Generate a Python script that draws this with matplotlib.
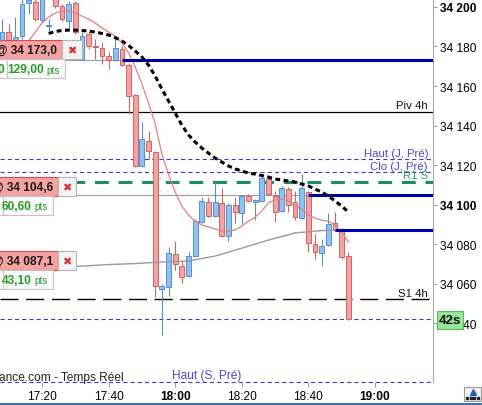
import matplotlib
matplotlib.use("Agg")
import matplotlib.pyplot as plt
from matplotlib.patches import Rectangle

plt.rcParams['font.family'] = ['Liberation Sans', 'DejaVu Sans']
plt.rcParams['lines.scale_dashes'] = False

#########################################################
# 2 min candles
times = ["17:08", "17:10", "17:12", "17:14", "17:16", "17:18", "17:20", "17:22", "17:24", "17:26",
         "17:28", "17:30", "17:32", "17:34", "17:36", "17:38", "17:40", "17:42", "17:44", "17:46",
         "17:48", "17:50", "17:52", "17:54", "17:56", "17:58", "18:00", "18:02", "18:04", "18:06",
         "18:08", "18:10", "18:12", "18:14", "18:16", "18:18", "18:20", "18:22", "18:24", "18:26",
         "18:28", "18:30", "18:32", "18:34", "18:36", "18:38", "18:40", "18:42", "18:44", "18:46",
         "18:48", "18:50", "18:52"]
opens = [34181.3, 34187.3, 34182.8, 34185.3, 34201.8, 34202.5, 34193.4, 34190.4, 34206.0, 34200.5,
         34192.9, 34202.0, 34173.7, 34186.3, 34179.7, 34179.2, 34175.2, 34173.2, 34178.7, 34170.6,
         34155.4, 34119.5, 34132.2, 34126.6, 34057.2, 34058.2, 34074.9, 34068.9, 34063.8, 34073.9,
         34091.1, 34101.3, 34094.1, 34100.8, 34084.0, 34099.7, 34095.7, 34104.3, 34101.3, 34101.8,
         34112.9, 34104.3, 34096.7, 34107.8, 34101.3, 34093.1, 34106.3, 34080.0, 34075.4, 34079.5,
         34090.6, 34087.6, 34073.9]
highs = [34193.9, 34191.4, 34195.0, 34206.0, 34207.0, 34205.0, 34208.0, 34193.9, 34208.0, 34201.5,
         34203.0, 34203.0, 34187.3, 34187.8, 34183.8, 34182.3, 34177.2, 34183.8, 34180.2, 34171.6,
         34155.9, 34141.8, 34137.2, 34127.1, 34059.5, 34078.5, 34081.5, 34071.4, 34075.9, 34092.6,
         34103.8, 34103.8, 34111.4, 34108.4, 34100.8, 34103.8, 34104.8, 34105.3, 34102.8, 34115.4,
         34113.9, 34106.8, 34109.4, 34108.9, 34106.8, 34115.4, 34106.8, 34085.1, 34082.5, 34095.7,
         34096.2, 34088.1, 34075.9]
lows = [34178.7, 34179.7, 34181.8, 34183.8, 34196.5, 34192.9, 34192.4, 34187.8, 34199.5, 34192.9,
        34188.9, 34186.3, 34173.2, 34178.7, 34173.7, 34171.1, 34168.6, 34172.6, 34170.1, 34145.8,
        34119.0, 34119.0, 34123.0, 34053.1, 34033.9, 34053.6, 34066.8, 34060.2, 34063.3, 34073.4,
        34090.6, 34093.6, 34093.6, 34083.5, 34081.5, 34090.6, 34090.1, 34101.3, 34092.0, 34101.3,
        34104.8, 34091.1, 34096.2, 34096.2, 34092.1, 34092.6, 34075.9, 34072.4, 34068.9, 34079.0,
        34086.6, 34072.4, 34041.5]
closes = [34187.3, 34181.8, 34184.8, 34201.5, 34203.5, 34193.9, 34206.0, 34190.6, 34200.5, 34193.9,
          34201.5, 34187.3, 34185.3, 34180.3, 34179.5, 34175.2, 34173.2, 34179.2, 34170.6, 34154.9,
          34119.5, 34133.2, 34127.1, 34058.7, 34058.7, 34075.4, 34069.9, 34063.3, 34073.9, 34091.6,
          34101.8, 34094.1, 34101.3, 34084.0, 34099.7, 34096.2, 34104.3, 34101.8, 34102.3, 34113.4,
          34105.3, 34096.2, 34108.4, 34099.7, 34093.6, 34108.4, 34080.5, 34075.9, 34079.0, 34090.1,
          34087.1, 34073.4, 34042.0]

# moving averages (fast one from 17:14, dashed one from 17:22)
ma_fast = [34179.7, 34182.8, 34187.3, 34191.9, 34194.9, 34197.0, 34198.0, 34198.0, 34197.0, 34195.4,
           34193.9, 34191.9, 34189.4, 34187.3, 34185.3, 34181.8, 34176.7, 34169.6, 34161.0, 34151.4,
           34140.8, 34125.5, 34115.4, 34106.3, 34099.2, 34094.7, 34091.6, 34089.6, 34088.6, 34087.6,
           34086.5, 34086.5, 34087.1, 34089.1, 34091.6, 34093.6, 34096.7, 34100.8, 34102.3, 34102.8,
           34101.8, 34099.7, 34097.7, 34094.7, 34093.1, 34092.1, 34091.6, 34089.6, 34086.0, 34081.0]
ma_mid = [34186.6, 34187.6, 34188.1, 34188.3, 34188.3, 34188.1, 34187.8, 34187.3, 34186.6, 34185.8,
          34184.5, 34182.8, 34180.5, 34177.7, 34174.7, 34170.6, 34165.0, 34158.5, 34152.4, 34146.3,
          34140.2, 34135.2, 34131.6, 34128.6, 34126.0, 34123.5, 34121.5, 34119.5, 34118.0, 34117.0,
          34115.9, 34115.4, 34114.7, 34113.9, 34112.9, 34112.4, 34111.9, 34111.4, 34110.4, 34109.4,
          34107.8, 34106.3, 34104.3, 34101.8, 34099.2, 34096.2]
ma_slow_times = ["17:06", "17:16", "17:24", "17:32", "17:40", "17:48", "17:56", "18:04", "18:12",
                 "18:20", "18:28", "18:36", "18:44", "18:50"]
ma_slow = [34066.0, 34067.3, 34068.1, 34068.8, 34069.6, 34070.1, 34070.9, 34071.4, 34073.9,
           34077.9, 34082.0, 34085.6, 34086.8, 34087.1]

# orders
order_prices = [34173.0, 34104.6, 34087.1]
order_times = ["17:44", "18:40", "18:48"]
order_labels = ["5 @ 34 173,0", "@ 34 104,6", "@ 34 087,1"]
order_pts = ["129,00", "60,60", "43,10"]

# levels
piv_4h = 34147.0
haut_j = 34123.0
clo_j = 34116.3
r1_s = 34111.5
s1_4h = 34052.2
bas_line = 34042.0
haut_s = 34010.1

y_ticks = [34040, 34060, 34080, 34100, 34120, 34140, 34160, 34180, 34200]
x_ticks = ["17:20", "17:40", "18:00", "18:20", "18:40", "19:00"]
timer = "42s"


#########################################################
def tmin(s):
    h, m = s.split(":")
    return (int(h) - 17) * 60 + int(m)


#########################################################
def order_tag(axo, top, label, pts, red_w, btn_w, pts_w, sep_x):
    h = 19
    axo.add_patch(Rectangle((-3, top), red_w + 3, h, fc='#f4a2a2', ec='#c85050', lw=0.8))
    axo.text(red_w - 5, top + h / 2 + 0.5, label, ha='right', va='center',
             fontsize=8.6, fontweight='bold', color='#1a1a1a')
    axo.add_patch(Rectangle((red_w, top), btn_w, h, fc='#f3f3f3', ec='#b5b5b5', lw=0.8))
    axo.text(red_w + btn_w / 2, top + h / 2 + 0.5, '\u2716', ha='center', va='center',
             fontsize=8, color='#d83030', family=['DejaVu Sans'])
    axo.add_patch(Rectangle((-3, top + h), pts_w + 3, h, fc='#fafafa', ec='#c3c3c3', lw=0.8))
    axo.plot([sep_x, sep_x], [top + h, top + 2 * h], color='#c3c3c3', lw=0.8)
    axo.text(pts_w - 21, top + 1.5 * h + 0.5, pts, ha='right', va='center',
             fontsize=8.6, fontweight='bold', color='#2a9a2a')
    axo.text(pts_w - 19, top + 1.5 * h + 1, 'pts', ha='left', va='center',
             fontsize=7.2, color='#2a9a2a')


#########################################################
fig = plt.figure(figsize=(4.82, 4.06), dpi=100)
fig.patch.set_facecolor('white')
ax = fig.add_axes([0, 23 / 406, 433 / 482, 383 / 406])
x_min, x_max = 7.387, 137.42
ax.set_xlim(x_min, x_max)
ax.set_ylim(34010.13, 34204.05)

# candles
x = [tmin(t) for t in times]
ups = [c >= o for o, c in zip(opens, closes)]
fills = ['#8dc3f0' if u else '#f4a3a3' for u in ups]
edges = ['#5a8ccc' if u else '#cc6464' for u in ups]
bottoms = [min(o, c) for o, c in zip(opens, closes)]
heights = [max(abs(c - o), 0.5) for o, c in zip(opens, closes)]
ax.vlines(x, lows, highs, colors=edges, lw=0.8, zorder=3)
ax.bar(x, heights, bottom=bottoms, width=1.45, color=fills, edgecolor=edges, linewidth=0.7, zorder=4)

# level lines
ax.axhline(piv_4h, color='black', lw=0.9, zorder=1)
for lvl in [haut_j, clo_j, bas_line]:
    ax.axhline(lvl, color='#3a3ab8', lw=0.8, dashes=(3, 2.2), zorder=1)
ax.axhline(haut_s, color='#3a3ab8', lw=0.8, dashes=(3, 2.2), zorder=1, clip_on=False)
ax.axhline(r1_s, color='#1b8f63', lw=2.2, dashes=(10, 7), zorder=2)
ax.axhline(s1_4h, color='black', lw=1.0, dashes=(13, 5.5), zorder=2)

# order lines
for i, (p, t) in enumerate(zip(order_prices, order_times)):
    if i < 2:
        ax.hlines(p, x_min, tmin(t), color='#9a9a9a', lw=0.8, zorder=2)
    ax.hlines(p, tmin(t), x_max, color='#0000a8', lw=2.2, zorder=6)

# moving averages
ax.plot([tmin(t) for t in ma_slow_times], ma_slow, color='#9a9a9a', lw=1.0, zorder=5)
ax.plot(x[3:], ma_fast, color='#e57f7f', lw=0.9, zorder=5)
ax.plot(x[7:], ma_mid, color='black', lw=2.2, dashes=(3.5, 2.5), zorder=7)

# level labels
def level_label(lvl, txt, color):
    ax.annotate(txt, xy=(1, lvl), xycoords=('axes fraction', 'data'), xytext=(-3.6, 1),
                textcoords='offset points', ha='right', va='bottom', fontsize=8.2, color=color,
                zorder=8)

level_label(piv_4h, "Piv 4h", '#111111')
level_label(haut_j, "Haut (J, Pr\u00e9)", '#4848c8')
level_label(clo_j, "Clo (J, Pr\u00e9)", '#4848c8')
level_label(r1_s, "R1 S", '#2c9c70')
level_label(s1_4h, "S1 4h", '#111111')

# axes
for s in ['top', 'left', 'bottom']:
    ax.spines[s].set_visible(False)
ax.spines['right'].set_color('#a8a8a8')
ax.spines['right'].set_linewidth(0.8)
ax.yaxis.tick_right()
ax.set_yticks(y_ticks)
ax.set_yticklabels(["34 %03d" % (v - 34000) for v in y_ticks])
for lab, v in zip(ax.get_yticklabels(), y_ticks):
    if v % 100 == 0:
        lab.set_fontweight('bold')
ax.set_xticks([tmin(t) for t in x_ticks])
ax.set_xticklabels(x_ticks)
for lab, t in zip(ax.get_xticklabels(), x_ticks):
    if t.endswith(":00"):
        lab.set_fontweight('bold')
ax.tick_params(axis='y', direction='out', length=3, color='#a0a0a0', pad=2, labelsize=8.6)
ax.tick_params(axis='x', direction='out', length=3.5, color='#a0a0a0', pad=2.5, labelsize=8.6)

#########################################################
# overlay in pixel coords
axo = fig.add_axes([0, 0, 1, 1], zorder=10)
axo.set_xlim(0, 482)
axo.set_ylim(406, 0)
axo.axis('off')
axo.patch.set_alpha(0)

order_tag(axo, 41, order_labels[0], order_pts[0], 62, 20, 65, 7)
axo.text(4, 60.5 + 9.5, '0', ha='right', va='center', fontsize=8.6, fontweight='bold', color='#2a9a2a')
order_tag(axo, 178, order_labels[1], order_pts[1], 58, 18, 53, 3)
order_tag(axo, 252, order_labels[2], order_pts[2], 58, 18, 53, 3)

axo.add_patch(Rectangle((437, 312), 26, 18, fc='#98e498', ec='#5ab85a', lw=0.8))
axo.text(450, 321.5, timer, ha='center', va='center', fontsize=9.6, fontweight='bold', color='#111111')

axo.text(-1, 378.5, "ance.com - Temps R\u00e9el", ha='left', va='center', fontsize=8.6, color='#222222')
axo.text(172, 376.5, "Haut (S, Pr\u00e9)", ha='left', va='center', fontsize=8.6, color='#4848c8')

axo.add_patch(Rectangle((464, 388), 17, 14, fc='#f4f4f4', ec='#9a9a9a', lw=0.8))
axo.plot([472.5], [392.5], marker='^', ms=4, color='#2060c0')
axo.plot([467, 470.5, 474, 477.5], [398.5] * 4, ls='none', marker='s', ms=1.6, color='#222222')
axo.add_patch(Rectangle((0, 403.5), 482, 3, fc='#4070b0', ec='none'))

fig.savefig("out.png", dpi=100, facecolor='white')
print("finished.")
